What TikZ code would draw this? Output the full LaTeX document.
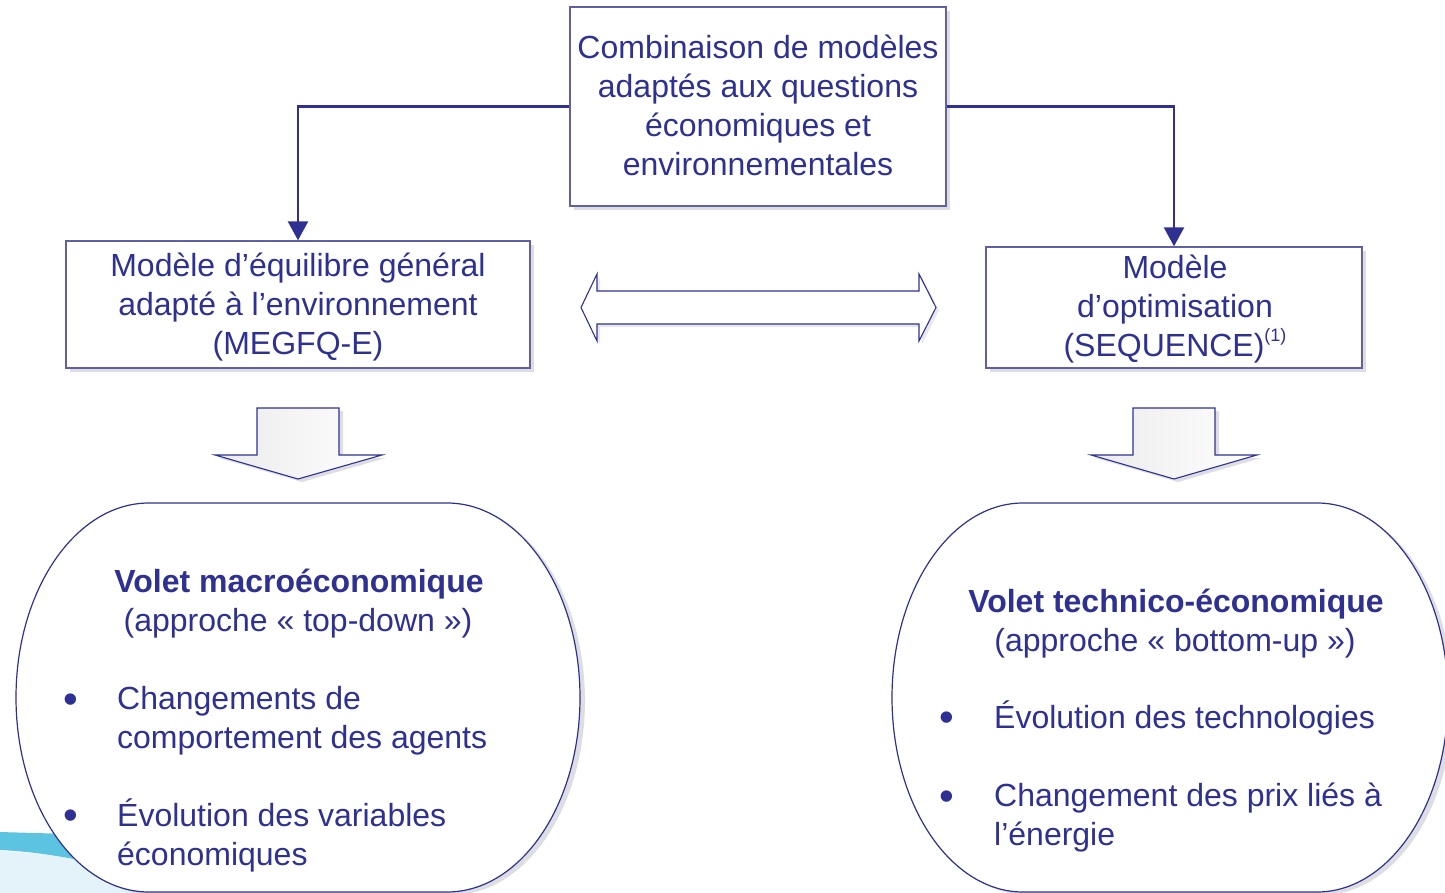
\documentclass[tikz,border=0pt]{standalone}
\usepackage{fontspec}
\setmainfont{Liberation Sans}
\usetikzlibrary{arrows.meta,shadows}

\definecolor{navy}{RGB}{46,49,146}
\definecolor{boxline}{RGB}{96,96,168}
\definecolor{shade}{RGB}{222,222,226}
\definecolor{swoosh}{RGB}{92,196,224}
\definecolor{swooshpale}{RGB}{228,243,249}

\newcommand\bodyfont{\fontsize{32}{39}\selectfont}
\newcommand\supfont{\fontsize{18}{19}\selectfont}
\newcommand\dotfont{\fontsize{42}{42}\selectfont}

\tikzset{
  modelbox/.style={draw=boxline, line width=1.4pt, fill=white, inner sep=0pt,
    drop shadow={shadow xshift=4pt, shadow yshift=-4pt, fill=shade, opacity=1}},
  boxtext/.style={align=center, font=\bodyfont, text=navy, inner sep=0pt},
  conn/.style={draw=navy, line width=2.6pt,
    -{Triangle[length=19pt,width=20pt]}},
  blockarrow/.style={draw=navy, line width=1.1pt, left color=black!8, right color=white,
    drop shadow={shadow xshift=4pt, shadow yshift=-3pt, fill=shade, opacity=1}},
  twoway/.style={draw=navy, line width=1.1pt, fill=white,
    drop shadow={shadow xshift=3pt, shadow yshift=-3pt, fill=shade!70, opacity=1}},
  blob/.style={draw=navy, line width=1.2pt, fill=white,
    drop shadow={shadow xshift=5pt, shadow yshift=-3pt, fill=shade, opacity=1}},
  txt/.style={text=navy, font=\bodyfont, inner sep=0pt},
  head/.style={txt, font=\bodyfont\bfseries, anchor=base},
  dot/.style={text=navy, font=\dotfont, inner sep=0pt, anchor=base},
}

\begin{document}
\begin{tikzpicture}[x=1pt,y=-1pt]
\useasboundingbox (0,0) rectangle (1445,893);

% decorative band in the lower left corner
\fill[swooshpale] (0,851) .. controls (40,853) and (70,858) .. (110,866)
  -- (220,884) -- (220,893) -- (0,893) -- cycle;
\fill[swoosh] (0,832) -- (70,834) -- (115,846) -- (115,867)
  .. controls (70,858) and (40,852) .. (0,850) -- cycle;

% model boxes
\node[modelbox, minimum width=376pt, minimum height=199pt] (top) at (758,106.5) {};
\node[boxtext] (topText) at (758,105.5)
  {Combinaison de modèles\\adaptés aux questions\\économiques et\\environnementales};
\node[modelbox, minimum width=464pt, minimum height=127pt] (megfq) at (298,304.5) {};
\node[boxtext] (megfqText) at (298,307.5)
  {Modèle d’équilibre général\\adapté à l’environnement\\(MEGFQ-E)};
\node[modelbox, minimum width=376pt, minimum height=121pt] (seq) at (1174,307.5) {};
\node[boxtext] (seqText) at (1175,309)
  {Modèle\\d’optimisation\\(SEQUENCE)\raisebox{15pt}{\supfont(1)}};

% links from the combined approach to both models
\draw[conn] (top.west) -| (megfq.north);
\draw[conn] (top.east) -| (seq.north);

% two-way exchange between the models
\path[twoway] (581,307.5) -- (597,274) -- (597,291) -- (919,291) -- (919,274)
  -- (936,307.5) -- (919,341) -- (919,324) -- (597,324) -- (597,341) -- cycle;

% block arrows towards each component
\path[blockarrow] (257,408) -- (339,408) -- (339,455) -- (382,455) -- (298,479)
  -- (215,455) -- (257,455) -- cycle;
\path[blockarrow] (1133,408) -- (1215,408) -- (1215,455) -- (1257,455) -- (1174,479)
  -- (1091,455) -- (1133,455) -- cycle;

% rounded components
\path[blob] (149,503) -- (447,503)
  arc[start angle=-90, end angle=90, x radius=133, y radius=194.5]
  -- (149,892)
  arc[start angle=90, end angle=270, x radius=133, y radius=194.5] -- cycle;
\path[blob] (1023,503) -- (1317,503)
  arc[start angle=-90, end angle=90, x radius=131, y radius=194.5]
  -- (1023,892)
  arc[start angle=90, end angle=270, x radius=131, y radius=194.5] -- cycle;

% macroeconomic component
\node[head] (macroT) at (299,592) {Volet macroéconomique};
\node[txt, anchor=base] (macroS) at (298,631) {(approche « top-down »)};
\node[dot] (macroB1) at (71,713.5) {\textbullet};
\node[txt, anchor=base west] (macroL1) at (117,709) {Changements de};
\node[txt, anchor=base west] (macroL2) at (117,748) {comportement des agents};
\node[dot] (macroB2) at (71,829.5) {\textbullet};
\node[txt, anchor=base west] (macroL3) at (117,826) {Évolution des variables};
\node[txt, anchor=base west] (macroL4) at (117,865) {économiques};

% techno-economic component
\node[head] (techT) at (1176,612) {Volet technico-économique};
\node[txt, anchor=base] (techS) at (1175,651) {(approche « bottom-up »)};
\node[dot] (techB1) at (947,731.5) {\textbullet};
\node[txt, anchor=base west] (techL1) at (994,728) {Évolution des technologies};
\node[dot] (techB2) at (947,810.5) {\textbullet};
\node[txt, anchor=base west] (techL2) at (994,806) {Changement des prix liés à};
\node[txt, anchor=base west] (techL3) at (994,845) {l’énergie};
\end{tikzpicture}
\end{document}
